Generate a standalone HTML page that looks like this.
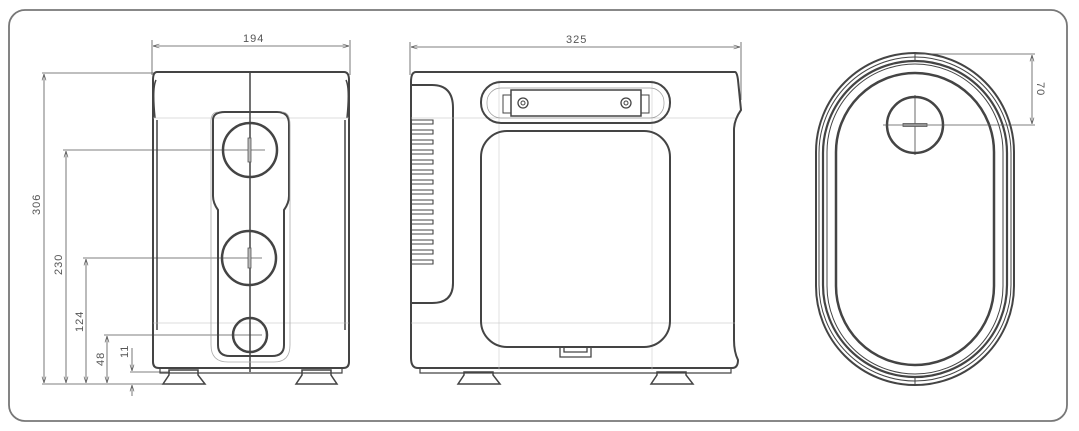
<!DOCTYPE html>
<html><head><style>body{margin:0;background:#fff}svg{display:block}text{font-family:"Liberation Sans",sans-serif;fill:#555;font-size:11px}</style></head><body>
<svg width="1079" height="431" viewBox="0 0 1079 431" xmlns="http://www.w3.org/2000/svg">
<defs><marker id="a" markerWidth="8" markerHeight="6" refX="8" refY="3" orient="auto-start-reverse"><path d="M0,0.5 L8,3 L0,5.5" fill="none" stroke="#555" stroke-width="0.8"/></marker></defs>
<rect x="9" y="10" width="1058" height="411" rx="16" fill="none" stroke="#777" stroke-width="1.8"/>
<g fill="none" stroke="#444">
<!-- FRONT VIEW -->
<g stroke-width="0.8" stroke="#555">
<line x1="152" y1="40" x2="152" y2="75"/><line x1="350" y1="40" x2="350" y2="75"/>
<line x1="153" y1="46" x2="349" y2="46" marker-start="url(#a)" marker-end="url(#a)"/>
<line x1="42" y1="73" x2="155" y2="73"/><line x1="42" y1="384" x2="205" y2="384"/>
<line x1="63" y1="150" x2="265" y2="150"/><line x1="83" y1="258" x2="262" y2="258"/>
<line x1="104" y1="335" x2="262" y2="335"/><line x1="130" y1="372" x2="170" y2="372"/>
<line x1="44" y1="74" x2="44" y2="383" marker-start="url(#a)" marker-end="url(#a)"/>
<line x1="66" y1="151" x2="66" y2="383" marker-start="url(#a)" marker-end="url(#a)"/>
<line x1="86" y1="259" x2="86" y2="383" marker-start="url(#a)" marker-end="url(#a)"/>
<line x1="107" y1="336" x2="107" y2="383" marker-start="url(#a)" marker-end="url(#a)"/>
<line x1="132" y1="348" x2="132" y2="371" marker-end="url(#a)"/>
<line x1="132" y1="396" x2="132" y2="385" marker-end="url(#a)"/>
</g>
<path d="M157,72 H344 Q349,72 349,80 V362 Q349,368 343,368 H159 Q153,368 153,362 V80 Q153,72 157,72Z" stroke-width="2"/>
<path d="M156,80 Q152,88 155,118 M346,80 Q350,88 347,118" stroke-width="1.5"/>
<line x1="157" y1="120" x2="157" y2="330" stroke-width="1.5"/><line x1="345" y1="120" x2="345" y2="330" stroke-width="1.5"/>
<line x1="153" y1="118" x2="349" y2="118" stroke="#bbb" stroke-width="0.6"/>
<line x1="153" y1="323" x2="349" y2="323" stroke="#bbb" stroke-width="0.6"/>
<line x1="250" y1="72" x2="250" y2="372" stroke-width="1.5"/>
<path d="M213,120 Q213,112 225,112 H277 Q289,112 289,124 V196 Q289,203 284,210 V345 Q284,356 272,356 H230 Q218,356 218,345 V210 Q213,203 213,196Z" stroke-width="2"/>
<path d="M218,112 Q210,112 211,125 V345 Q211,362 228,362 H274 Q290,362 290,345 V125 Q290,112 282,112" stroke="#aaa" stroke-width="0.8"/>
<circle cx="250" cy="150" r="27" stroke-width="2.5"/>
<circle cx="249" cy="258" r="27" stroke-width="2.5"/>
<circle cx="250" cy="335" r="17" stroke-width="2.5"/>
<rect x="248" y="138" width="3" height="24" fill="#bbb" stroke="#555" stroke-width="0.8"/>
<rect x="248" y="248" width="3" height="20" fill="#bbb" stroke="#555" stroke-width="0.8"/>
<path d="M163,384 L169,375 V370 H198 V375 L205,384Z M296,384 L302,375 V370 H331 V375 L337,384Z" stroke-width="1.5"/>
<path d="M160,368 V373 H342 V368" stroke-width="1.2"/>
<!-- SIDE VIEW -->
<g stroke-width="0.8" stroke="#555">
<line x1="410" y1="42" x2="410" y2="75"/><line x1="741" y1="42" x2="741" y2="100"/>
<line x1="411" y1="47" x2="740" y2="47" marker-start="url(#a)" marker-end="url(#a)"/>
</g>
<path d="M416,72 H735 Q737,72 738,80 L741,110 Q734,120 734,130 V340 Q734,352 738,360 Q738,368 732,368 H418 Q411,368 411,358 V82 Q411,72 416,72Z" stroke-width="2"/>
<path d="M411,85 H432 Q453,85 453,108 V283 Q453,303 432,303 H411" stroke-width="2"/>
<g stroke-width="1.1">
<path d="M410,120h23v4h-23M410,130h23v4h-23M410,140h23v4h-23M410,150h23v4h-23M410,160h23v4h-23M410,170h23v4h-23M410,180h23v4h-23M410,190h23v4h-23M410,200h23v4h-23M410,210h23v4h-23M410,220h23v4h-23M410,230h23v4h-23M410,240h23v4h-23M410,250h23v4h-23M410,260h23v4h-23"/>
</g>
<line x1="411" y1="323" x2="735" y2="323" stroke="#bbb" stroke-width="0.6"/>
<line x1="411" y1="118" x2="735" y2="118" stroke="#bbb" stroke-width="0.6"/>
<line x1="499" y1="80" x2="499" y2="370" stroke="#ccc" stroke-width="0.6"/>
<line x1="652" y1="80" x2="652" y2="370" stroke="#ccc" stroke-width="0.6"/>
<rect x="481" y="82" width="189" height="41" rx="20" stroke-width="2"/>
<rect x="487" y="88" width="177" height="30" rx="14" stroke="#999" stroke-width="0.7"/>
<rect x="511" y="90" width="130" height="26" stroke-width="1.5"/>
<rect x="503" y="95" width="8" height="18" stroke-width="1"/><rect x="641" y="95" width="8" height="18" stroke-width="1"/>
<circle cx="523" cy="103" r="5" stroke-width="1.3"/><circle cx="523" cy="103" r="2" stroke-width="1"/>
<circle cx="626" cy="103" r="5" stroke-width="1.3"/><circle cx="626" cy="103" r="2" stroke-width="1"/>
<rect x="481" y="131" width="189" height="216" rx="26" stroke-width="2"/>
<path d="M560,347 V357 H591 V347 M564,348 V352 H587 V348" stroke-width="1.3"/>
<path d="M458,384 L464,375 V372 H493 V375 L500,384Z M651,384 L657,375 V372 H686 V375 L693,384Z" stroke-width="1.5"/>
<path d="M420,368 V373 H731 V368" stroke-width="1.2"/>
<!-- TOP VIEW -->
<rect x="816" y="53" width="198" height="332" rx="99" stroke-width="2"/>
<rect x="819" y="57" width="192" height="324" rx="96" stroke-width="1"/>
<rect x="823" y="61" width="184" height="316" rx="92" stroke-width="2.2"/>
<rect x="827" y="64" width="176" height="310" rx="88" stroke-width="1"/>
<rect x="836" y="73" width="158" height="292" rx="79" stroke-width="2.5"/>
<circle cx="915" cy="125" r="28" stroke-width="2.5"/>
<line x1="915" y1="95" x2="915" y2="155" stroke-width="0.8"/>
<rect x="903" y="123.5" width="24" height="3" fill="#bbb" stroke="#555" stroke-width="0.8"/>
<line x1="915" y1="53" x2="915" y2="62" stroke-width="1"/><line x1="915" y1="376" x2="915" y2="385" stroke-width="1"/>
<g stroke-width="0.8" stroke="#555">
<line x1="915" y1="54" x2="1035" y2="54"/><line x1="883" y1="125" x2="1035" y2="125"/>
<line x1="1032" y1="55" x2="1032" y2="124" marker-start="url(#a)" marker-end="url(#a)"/>
</g>
</g>
<text x="243" y="42" letter-spacing="1">194</text>
<text x="566" y="43" letter-spacing="1">325</text>
<text transform="translate(40,215) rotate(-90)" letter-spacing="1">306</text>
<text transform="translate(62,275) rotate(-90)" letter-spacing="1">230</text>
<text transform="translate(83,332) rotate(-90)" letter-spacing="1">124</text>
<text transform="translate(104,366) rotate(-90)" letter-spacing="1">48</text>
<text transform="translate(128,358) rotate(-90)" letter-spacing="1">11</text>
<text transform="translate(1037,82) rotate(90)" letter-spacing="1">70</text>
</svg>
</body></html>
